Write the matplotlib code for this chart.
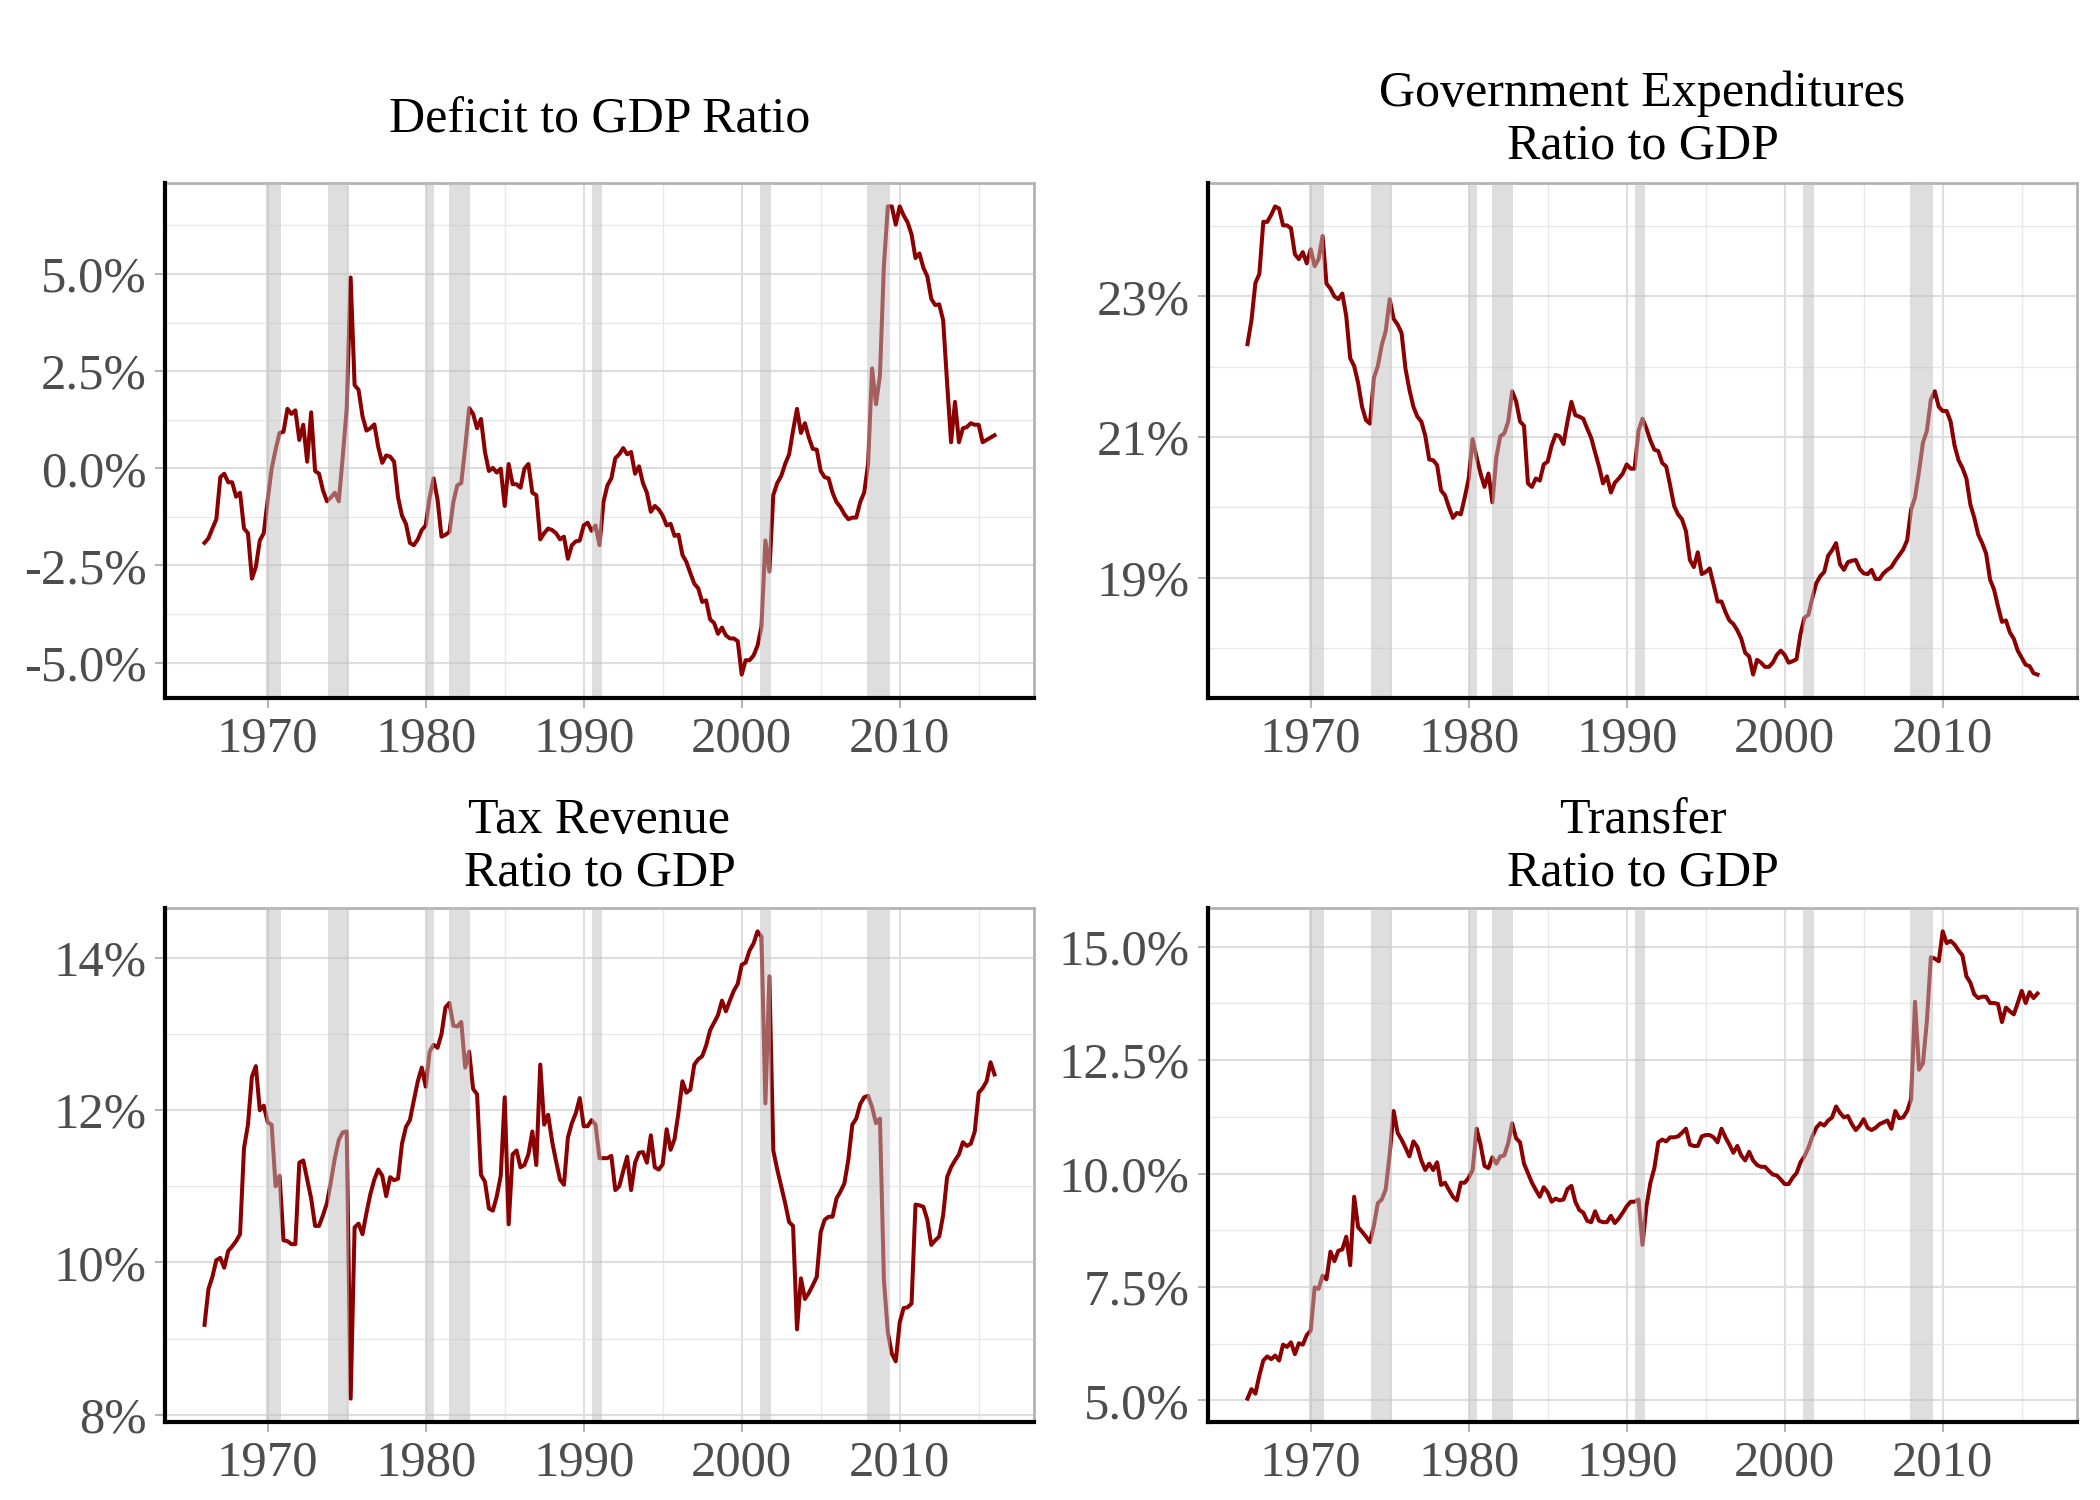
import numpy as np
import matplotlib
matplotlib.use("Agg")
import matplotlib.pyplot as plt
from matplotlib.ticker import FixedLocator

plt.rcParams["font.family"] = ["Liberation Serif", "DejaVu Serif"]

# quarterly ratios to GDP (%), 1966Q1 onwards
deficit = [
    -1.92, -1.80, -1.55, -1.31, -0.23, -0.14, -0.36, -0.36, -0.73, -0.63,
    -1.55, -1.67, -2.84, -2.54, -1.86, -1.67, -0.81, -0.01, 0.48, 0.91,
    0.94, 1.53, 1.40, 1.49, 0.73, 1.12, 0.17, 1.44, -0.07, -0.14,
    -0.57, -0.85, -0.75, -0.63, -0.85, 0.30, 1.53, 4.91, 2.14, 2.02,
    1.34, 0.97, 1.03, 1.13, 0.54, 0.14, 0.33, 0.30, 0.17, -0.75,
    -1.22, -1.43, -1.92, -1.98, -1.83, -1.59, -1.47, -0.75, -0.26, -0.81,
    -1.76, -1.71, -1.64, -0.87, -0.44, -0.38, 0.54, 1.55, 1.40, 1.03,
    1.27, 0.42, -0.07, 0.01, -0.11, -0.01, -0.97, 0.11, -0.41, -0.41,
    -0.50, -0.01, 0.11, -0.63, -0.69, -1.83, -1.67, -1.55, -1.59, -1.67,
    -1.83, -1.76, -2.33, -1.98, -1.88, -1.86, -1.47, -1.40, -1.61, -1.47,
    -1.98, -0.87, -0.44, -0.26, 0.26, 0.36, 0.52, 0.36, 0.42, -0.14,
    0.05, -0.38, -0.63, -1.12, -0.97, -1.06, -1.22, -1.47, -1.43, -1.74,
    -1.71, -2.23, -2.41, -2.70, -2.97, -3.09, -3.44, -3.40, -3.89, -3.98,
    -4.26, -4.10, -4.30, -4.38, -4.38, -4.45, -5.31, -4.94, -4.94, -4.82,
    -4.57, -4.08, -1.86, -2.66, -0.69, -0.38, -0.20, 0.11, 0.36, 0.97,
    1.53, 0.91, 1.16, 0.79, 0.50, 0.48, -0.07, -0.23, -0.26, -0.63,
    -0.87, -1.00, -1.18, -1.31, -1.27, -1.27, -0.87, -0.63, 0.11, 2.57,
    1.65, 2.39, 5.22, 6.74, 6.74, 6.27, 6.74, 6.51, 6.33, 6.02,
    5.41, 5.53, 5.16, 4.94, 4.36, 4.20, 4.22, 3.81, 2.20, 0.67,
    1.71, 0.67, 1.03, 1.06, 1.16, 1.12, 1.12, 0.67, 0.73, 0.79,
    0.85,
]

expenditure = [
    22.32, 22.66, 23.19, 23.32, 24.06, 24.06, 24.16, 24.28, 24.25, 24.01,
    24.01, 23.97, 23.60, 23.53, 23.63, 23.47, 23.67, 23.43, 23.53, 23.86,
    23.18, 23.11, 23.00, 22.96, 23.04, 22.72, 22.12, 22.01, 21.77, 21.43,
    21.24, 21.19, 21.84, 22.01, 22.31, 22.51, 22.96, 22.68, 22.60, 22.48,
    21.97, 21.67, 21.43, 21.29, 21.22, 21.02, 20.68, 20.67, 20.60, 20.24,
    20.17, 20.00, 19.85, 19.92, 19.90, 20.14, 20.41, 20.97, 20.71, 20.48,
    20.29, 20.48, 20.07, 20.71, 21.01, 21.05, 21.22, 21.65, 21.51, 21.22,
    21.16, 20.34, 20.29, 20.41, 20.38, 20.61, 20.65, 20.88, 21.03, 21.01,
    20.90, 21.22, 21.50, 21.31, 21.29, 21.26, 21.12, 20.99, 20.78, 20.58,
    20.34, 20.44, 20.21, 20.35, 20.41, 20.48, 20.61, 20.55, 20.55, 21.09,
    21.26, 21.12, 20.95, 20.82, 20.80, 20.63, 20.58, 20.31, 20.02, 19.90,
    19.83, 19.66, 19.25, 19.15, 19.36, 19.05, 19.08, 19.13, 18.90, 18.66,
    18.66, 18.51, 18.39, 18.34, 18.25, 18.13, 17.93, 17.88, 17.62, 17.83,
    17.79, 17.73, 17.73, 17.79, 17.90, 17.96, 17.90, 17.79, 17.81, 17.84,
    18.20, 18.43, 18.47, 18.71, 18.92, 19.02, 19.08, 19.31, 19.39, 19.49,
    19.19, 19.11, 19.22, 19.24, 19.25, 19.12, 19.06, 19.05, 19.11, 18.98,
    18.98, 19.06, 19.11, 19.15, 19.24, 19.32, 19.40, 19.53, 19.97, 20.14,
    20.51, 20.92, 21.09, 21.53, 21.65, 21.43, 21.37, 21.37, 21.22, 20.88,
    20.67, 20.56, 20.41, 20.04, 19.85, 19.61, 19.49, 19.34, 18.97, 18.83,
    18.59, 18.37, 18.39, 18.22, 18.13, 17.96, 17.86, 17.76, 17.74, 17.64,
    17.62,
]

tax = [
    9.18, 9.65, 9.81, 10.03, 10.06, 9.93, 10.15, 10.21, 10.28, 10.37,
    11.50, 11.81, 12.44, 12.58, 12.00, 12.06, 11.84, 11.81, 11.00, 11.14,
    10.29, 10.28, 10.24, 10.24, 11.31, 11.34, 11.09, 10.84, 10.48, 10.48,
    10.62, 10.78, 11.06, 11.37, 11.61, 11.71, 11.72, 8.21, 10.46, 10.51,
    10.37, 10.65, 10.90, 11.09, 11.22, 11.14, 10.87, 11.12, 11.08, 11.10,
    11.56, 11.78, 11.87, 12.13, 12.38, 12.56, 12.31, 12.77, 12.86, 12.82,
    13.00, 13.35, 13.41, 13.11, 13.10, 13.16, 12.56, 12.77, 12.28, 12.21,
    11.15, 11.06, 10.71, 10.68, 10.87, 11.14, 12.17, 10.50, 11.42, 11.47,
    11.25, 11.28, 11.42, 11.72, 11.28, 12.60, 11.81, 11.94, 11.59, 11.33,
    11.09, 11.02, 11.64, 11.83, 11.96, 12.16, 11.79, 11.79, 11.87, 11.81,
    11.37, 11.37, 11.37, 11.40, 10.95, 11.00, 11.20, 11.39, 10.95, 11.31,
    11.44, 11.45, 11.31, 11.67, 11.25, 11.22, 11.29, 11.75, 11.48, 11.62,
    11.97, 12.38, 12.23, 12.27, 12.60, 12.67, 12.71, 12.85, 13.05, 13.15,
    13.25, 13.44, 13.30, 13.44, 13.57, 13.66, 13.91, 13.94, 14.10, 14.19,
    14.35, 14.28, 12.09, 13.76, 11.47, 11.22, 11.00, 10.78, 10.53, 10.48,
    9.12, 9.79, 9.52, 9.60, 9.70, 9.81, 10.40, 10.56, 10.60, 10.60,
    10.84, 10.93, 11.04, 11.35, 11.81, 11.89, 12.08, 12.17, 12.19, 12.04,
    11.83, 11.89, 9.77, 9.08, 8.80, 8.70, 9.21, 9.40, 9.41, 9.46,
    10.76, 10.75, 10.73, 10.56, 10.23, 10.29, 10.34, 10.62, 11.12, 11.25,
    11.34, 11.42, 11.58, 11.53, 11.56, 11.72, 12.23, 12.29, 12.38, 12.63,
    12.47,
]

transfer = [
    5.04, 5.25, 5.15, 5.55, 5.88, 5.97, 5.91, 5.99, 5.88, 6.23,
    6.18, 6.28, 6.02, 6.26, 6.23, 6.44, 6.54, 7.49, 7.46, 7.75,
    7.67, 8.28, 8.07, 8.30, 8.33, 8.61, 7.98, 9.49, 8.82, 8.72,
    8.61, 8.49, 8.86, 9.35, 9.43, 9.66, 10.43, 11.38, 10.90, 10.75,
    10.57, 10.38, 10.71, 10.59, 10.29, 10.08, 10.22, 10.08, 10.25, 9.75,
    9.80, 9.64, 9.49, 9.41, 9.80, 9.80, 9.91, 10.08, 10.99, 10.64,
    10.17, 10.12, 10.36, 10.22, 10.38, 10.40, 10.67, 11.11, 10.78, 10.69,
    10.22, 10.01, 9.80, 9.64, 9.49, 9.70, 9.59, 9.38, 9.45, 9.41,
    9.43, 9.66, 9.73, 9.38, 9.20, 9.14, 8.96, 8.93, 9.17, 8.96,
    8.93, 8.93, 9.07, 8.91, 9.01, 9.14, 9.28, 9.38, 9.38, 9.43,
    8.43, 9.28, 9.80, 10.12, 10.69, 10.75, 10.71, 10.80, 10.80, 10.82,
    10.90, 10.99, 10.64, 10.61, 10.61, 10.82, 10.85, 10.85, 10.80, 10.69,
    10.99, 10.80, 10.64, 10.46, 10.61, 10.40, 10.29, 10.48, 10.29, 10.19,
    10.15, 10.15, 10.06, 9.98, 9.96, 9.87, 9.77, 9.77, 9.91, 10.01,
    10.25, 10.38, 10.57, 10.82, 11.01, 11.11, 11.06, 11.17, 11.24, 11.48,
    11.34, 11.24, 11.27, 11.09, 10.96, 11.06, 11.20, 11.01, 10.96, 11.01,
    11.09, 11.13, 11.17, 10.99, 11.38, 11.22, 11.24, 11.38, 11.64, 13.79,
    12.29, 12.43, 13.37, 14.77, 14.74, 14.68, 15.34, 15.08, 15.13, 15.05,
    14.92, 14.81, 14.35, 14.21, 13.95, 13.87, 13.90, 13.90, 13.76, 13.76,
    13.74, 13.34, 13.66, 13.58, 13.51, 13.76, 14.03, 13.76, 14.00, 13.87,
    13.97,
]

# NBER recessions (decimal years)
rec_start = [1969.917, 1973.833, 1980.0, 1981.5, 1990.5, 2001.167, 2007.917]
rec_end = [1970.833, 1975.167, 1980.5, 1982.833, 1991.167, 2001.833, 2009.417]

titles = [
    "Deficit to GDP Ratio",
    "Government Expenditures\nRatio to GDP",
    "Tax Revenue\nRatio to GDP",
    "Transfer\nRatio to GDP",
]
series = [deficit, expenditure, tax, transfer]
y_major = [[-5, -2.5, 0, 2.5, 5], [19, 21, 23], [8, 10, 12, 14], [5, 7.5, 10, 12.5, 15]]
y_minor = [[-3.75, -1.25, 1.25, 3.75, 6.25], [18, 20, 22, 24], [9, 11, 13],
           [6.25, 8.75, 11.25, 13.75]]
y_decimals = [1, 0, 0, 1]
x_major = [1970, 1980, 1990, 2000, 2010]
x_minor = [1975, 1985, 1995, 2005, 2015]

W, H = 2100, 1500
# panel boxes in pixels: left, top, right, bottom
boxes = [(165, 183, 1034, 698), (1208, 183, 2077, 698),
         (165, 908, 1034, 1422), (1208, 908, 2077, 1422)]
title_y = [120, 120, 847, 847]

fig = plt.figure(figsize=(21, 15), dpi=100)

for i, vals in enumerate(series):
    l, t, r, b = boxes[i]
    ax = fig.add_axes([l / W, 1 - b / H, (r - l) / W, (b - t) / H])
    vals = np.array(vals)
    x = 1966 + 0.25 * np.arange(len(vals))

    ax.plot(x, vals, color="#8B0000", lw=2.9, zorder=2, solid_joinstyle="round")
    for s, e in zip(rec_start, rec_end):
        ax.axvspan(s, e, color="#BFBFBF", alpha=0.5, lw=0, zorder=3)

    xpad = 0.05 * (x[-1] - x[0])
    ax.set_xlim(x[0] - xpad, x[-1] + xpad)
    ypad = 0.05 * (vals.max() - vals.min())
    ax.set_ylim(vals.min() - ypad, vals.max() + ypad)

    ax.xaxis.set_major_locator(FixedLocator(x_major))
    ax.xaxis.set_minor_locator(FixedLocator(x_minor))
    ax.yaxis.set_major_locator(FixedLocator(y_major[i]))
    ax.yaxis.set_minor_locator(FixedLocator(y_minor[i]))
    ax.set_xticklabels([str(v) for v in x_major])
    d = y_decimals[i]
    ax.set_yticklabels([f"{v:.{d}f}%" for v in y_major[i]])

    ax.set_axisbelow(True)
    ax.grid(which="major", color="#DEDEDE", lw=1.5)
    ax.grid(which="minor", color="#E8E8E8", lw=1.0)

    ax.tick_params(which="major", direction="out", length=7, width=1.4,
                   color="#B3B3B3", labelcolor="#4D4D4D", labelsize=36.5, pad=6)
    ax.tick_params(which="minor", length=0)

    for side in ["top", "right"]:
        ax.spines[side].set_color("#B3B3B3")
        ax.spines[side].set_linewidth(2.0)
    for side in ["left", "bottom"]:
        ax.spines[side].set_color("black")
        ax.spines[side].set_linewidth(3.0)
        ax.spines[side].set_zorder(5)

    fig.text((l + r) / 2 / W, 1 - title_y[i] / H, titles[i], ha="center",
             va="center", fontsize=36, linespacing=1.15, color="black")

fig.savefig("out.png", dpi=100, facecolor="white")
